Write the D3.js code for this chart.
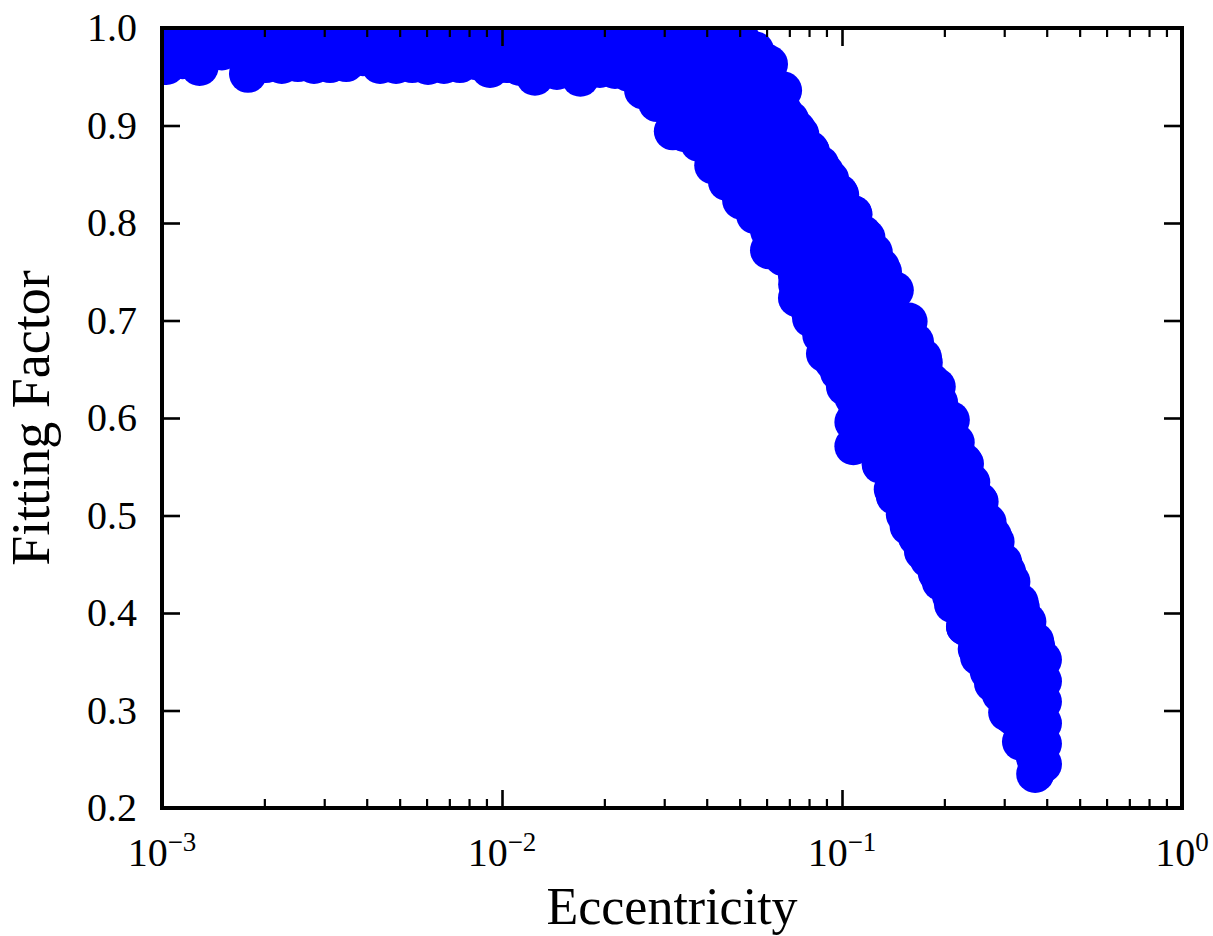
<!DOCTYPE html>
<html>
<head>
<meta charset="utf-8">
<script src="https://cdn.jsdelivr.net/npm/d3@7"></script>
<style>
  body { margin: 0; background: #fff; }
  text { font-family: "Liberation Serif", "Times New Roman", serif; fill: #000; }
</style>
</head>
<body>
<svg id="chart" width="1213" height="936"></svg>
<script>
// eccentricity of each column of points
var eccentricity = [
  0.00103, 0.00115, 0.00129, 0.00150, 0.00179, 0.00202, 0.00225, 0.00251, 0.00280, 0.00312,
  0.00348, 0.00390, 0.00438, 0.00488, 0.00544, 0.00606, 0.00675, 0.00752, 0.00839, 0.00922,
  0.0103, 0.0113, 0.0125, 0.0145, 0.0170, 0.0194, 0.0215, 0.0236, 0.0260, 0.0286,
  0.0318, 0.0345, 0.0380, 0.0418, 0.0459, 0.0505, 0.0555, 0.0610, 0.0671, 0.0737,
  0.0811, 0.0891, 0.0980, 0.108, 0.118, 0.130, 0.143, 0.157, 0.173, 0.190,
  0.209, 0.230, 0.253, 0.278, 0.306, 0.336, 0.370, 0.390
];

// fitting factors found at each eccentricity above
var fittingFactor = [
  [0.988, 0.961], [0.990, 0.967], [0.987, 0.960], [0.989, 0.976], [0.988, 0.971, 0.953],
  [0.986, 0.963], [0.989, 0.962], [0.988, 0.964], [0.987, 0.962], [0.990, 0.963],
  [0.988, 0.964], [0.986, 0.970], [0.989, 0.962], [0.988, 0.962], [0.987, 0.963],
  [0.989, 0.961], [0.988, 0.962], [0.990, 0.963], [0.987, 0.966], [0.988, 0.972, 0.958],
  [0.989, 0.963], [0.988, 0.960], [0.986, 0.968, 0.950], [0.989, 0.971, 0.956], [0.988, 0.968, 0.949],
  [0.987, 0.972, 0.958],
  [0.988, 0.972, 0.957],
  [0.988, 0.971, 0.954],
  [0.988, 0.971, 0.953, 0.936],
  [0.988, 0.966, 0.945, 0.923],
  [0.988, 0.966, 0.943, 0.920, 0.894],
  [0.988, 0.964, 0.940, 0.917, 0.892],
  [0.988, 0.962, 0.936, 0.911, 0.882],
  [0.988, 0.962, 0.936, 0.911, 0.885, 0.859],
  [0.988, 0.964, 0.940, 0.917, 0.893, 0.867, 0.842],
  [0.988, 0.967, 0.947, 0.926, 0.906, 0.885, 0.865, 0.844, 0.823],
  [0.977, 0.955, 0.934, 0.912, 0.891, 0.869, 0.848, 0.826, 0.808],
  [0.963, 0.942, 0.920, 0.898, 0.877, 0.855, 0.834, 0.812, 0.792, 0.772],
  [0.936, 0.915, 0.893, 0.872, 0.850, 0.829, 0.807, 0.786, 0.765],
  [0.896, 0.875, 0.853, 0.832, 0.810, 0.789, 0.767, 0.746, 0.723],
  [0.873, 0.851, 0.830, 0.808, 0.787, 0.765, 0.744, 0.722, 0.702],
  [0.852, 0.829, 0.805, 0.782, 0.758, 0.734, 0.711, 0.687, 0.666],
  [0.831, 0.807, 0.784, 0.760, 0.736, 0.713, 0.689, 0.668, 0.647],
  [0.809, 0.786, 0.762, 0.738, 0.715, 0.691, 0.668, 0.644, 0.621, 0.596, 0.571],
  [0.785, 0.761, 0.737, 0.714, 0.690, 0.667, 0.643, 0.618, 0.593],
  [0.755, 0.729, 0.704, 0.678, 0.652, 0.627, 0.601, 0.575, 0.552],
  [0.731, 0.705, 0.678, 0.651, 0.625, 0.598, 0.571, 0.545, 0.520],
  [0.699, 0.673, 0.646, 0.619, 0.593, 0.566, 0.539, 0.514, 0.489],
  [0.662, 0.636, 0.610, 0.585, 0.559, 0.533, 0.508, 0.485, 0.463],
  [0.632, 0.607, 0.583, 0.558, 0.533, 0.509, 0.484, 0.462, 0.441],
  [0.598, 0.575, 0.553, 0.530, 0.508, 0.485, 0.463, 0.440, 0.418],
  [0.553, 0.532, 0.512, 0.491, 0.471, 0.450, 0.430, 0.408, 0.386],
  [0.515, 0.494, 0.474, 0.453, 0.433, 0.412, 0.393, 0.373, 0.355],
  [0.479, 0.457, 0.436, 0.414, 0.393, 0.371, 0.350, 0.328],
  [0.442, 0.422, 0.401, 0.381, 0.360, 0.339, 0.319, 0.298],
  [0.405, 0.385, 0.364, 0.344, 0.323, 0.303, 0.285, 0.268],
  [0.371, 0.351, 0.330, 0.310, 0.289, 0.269, 0.251, 0.235],
  [0.352, 0.330, 0.309, 0.287, 0.266, 0.245]
];

// extra points lying along the outer (upper right) rim of the band
var rimEcc = [
  0.0550, 0.0588, 0.0603, 0.0637, 0.0704, 0.0754, 0.0806, 0.0863, 0.0923, 0.0988,
  0.108, 0.115, 0.124, 0.132, 0.141, 0.156, 0.164, 0.174, 0.183, 0.193,
  0.204, 0.216, 0.228, 0.240, 0.254, 0.268, 0.283, 0.298, 0.315, 0.333,
  0.351, 0.373
];
var rimFF = [
  0.973, 0.966, 0.957, 0.937, 0.906, 0.891, 0.875, 0.860, 0.845, 0.829,
  0.809, 0.789, 0.770, 0.750, 0.731, 0.698, 0.678, 0.657, 0.637, 0.616,
  0.596, 0.575, 0.555, 0.534, 0.514, 0.493, 0.473, 0.452, 0.432, 0.411,
  0.391, 0.365
];

// extra points lying along the inner (lower left) rim of the band
var innerEcc = [
  0.0738, 0.0801, 0.0869, 0.0942, 0.102, 0.111, 0.120, 0.130, 0.141, 0.153,
  0.166, 0.180, 0.195, 0.212, 0.230, 0.249, 0.270, 0.293, 0.318, 0.344, 0.368
];
var innerFF = [
  0.737, 0.711, 0.685, 0.658, 0.632, 0.606, 0.579, 0.553, 0.527, 0.501,
  0.478, 0.455, 0.432, 0.409, 0.386, 0.363, 0.340, 0.317, 0.294, 0.272, 0.255
];

var xMajorTicks = [1e-3, 1e-2, 1e-1, 1];
var xTickExponents = ["\u22123", "\u22122", "\u22121", "0"];
var yTicks = [0.2, 0.3, 0.4, 0.5, 0.6, 0.7, 0.8, 0.9, 1.0];

var width = 1213, height = 936;
var margin = {left: 162, right: 31, top: 28, bottom: 128};
var plot_w = width - margin.left - margin.right;
var plot_h = height - margin.top - margin.bottom;

var svg = d3.select("#chart");
var g = svg.append("g")
    .attr("transform", `translate(${margin.left}, ${margin.top})`);

var x = d3.scaleLog().domain([1e-3, 1]).range([0, plot_w]);
var y = d3.scaleLinear().domain([0.2, 1.0]).range([plot_h, 0]);

// minor ticks: every 2..9 inside each decade
var xMinorTicks = x.ticks().filter(function(t) {
    return xMajorTicks.indexOf(t) < 0;
});

g.append("clipPath").attr("id", "clip")
  .append("rect")
    .attr("width", plot_w)
    .attr("height", plot_h);

var points = [];
eccentricity.forEach(function(e, i) {
    fittingFactor[i].forEach(function(f) {
        points.push({ecc: e, ff: f});
    });
});
rimEcc.forEach(function(e, i) { points.push({ecc: e, ff: rimFF[i]}); });
innerEcc.forEach(function(e, i) { points.push({ecc: e, ff: innerFF[i]}); });

g.append("g")
    .attr("clip-path", "url(#clip)")
  .selectAll("circle")
    .data(points)
    .enter()
    .append("circle")
    .attr("cx", function(d) { return x(d.ecc); })
    .attr("cy", function(d) { return y(d.ff); })
    .attr("r", 19)
    .style("fill", "#0000ff");

function tidy(sel, w) {
    sel.select(".domain").remove();
    sel.selectAll(".tick line").attr("stroke", "#000").attr("stroke-width", w);
}

// bottom and top x ticks (inward)
g.append("g").attr("transform", `translate(0, ${plot_h})`)
    .call(d3.axisBottom(x).tickValues(xMajorTicks).tickSize(-18).tickFormat(""))
    .call(tidy, 2.6);
g.append("g").attr("transform", `translate(0, ${plot_h})`)
    .call(d3.axisBottom(x).tickValues(xMinorTicks).tickSize(-9).tickFormat(""))
    .call(tidy, 2.2);
g.append("g")
    .call(d3.axisTop(x).tickValues(xMajorTicks).tickSize(-18).tickFormat(""))
    .call(tidy, 2.6);
g.append("g")
    .call(d3.axisTop(x).tickValues(xMinorTicks).tickSize(-9).tickFormat(""))
    .call(tidy, 2.2);

// left and right y ticks
var y_left = g.append("g")
    .call(d3.axisLeft(y).tickValues(yTicks).tickSize(-18).tickPadding(25)
        .tickFormat(d3.format(".1f")))
    .call(tidy, 2.6);
y_left.attr("font-family", null).attr("font-size", null);
y_left.selectAll(".tick text")
    .style("font-size", "40px")
    .attr("fill", "#000");

g.append("g").attr("transform", `translate(${plot_w}, 0)`)
    .call(d3.axisRight(y).tickValues(yTicks).tickSize(-18).tickFormat(""))
    .call(tidy, 2.6);

// x tick labels with powers of ten
xMajorTicks.forEach(function(t, i) {
    var lbl = g.append("text")
        .attr("x", x(t))
        .attr("y", plot_h + 58)
        .style("text-anchor", "middle");
    lbl.append("tspan").style("font-size", "40px").text("10");
    lbl.append("tspan").style("font-size", "27px").attr("dy", -15).text(xTickExponents[i]);
});

// frame
g.append("rect")
    .attr("width", plot_w)
    .attr("height", plot_h)
    .attr("fill", "none")
    .attr("stroke", "#000")
    .attr("stroke-width", 4);

// axis titles
svg.append("text")
    .attr("x", margin.left + plot_w / 2)
    .attr("y", 924)
    .style("text-anchor", "middle")
    .style("font-size", "52px")
    .text("Eccentricity");

svg.append("text")
    .attr("transform", `translate(49, ${margin.top + plot_h / 2}) rotate(-90)`)
    .style("text-anchor", "middle")
    .style("font-size", "54px")
    .text("Fitting Factor");
</script>
</body>
</html>
